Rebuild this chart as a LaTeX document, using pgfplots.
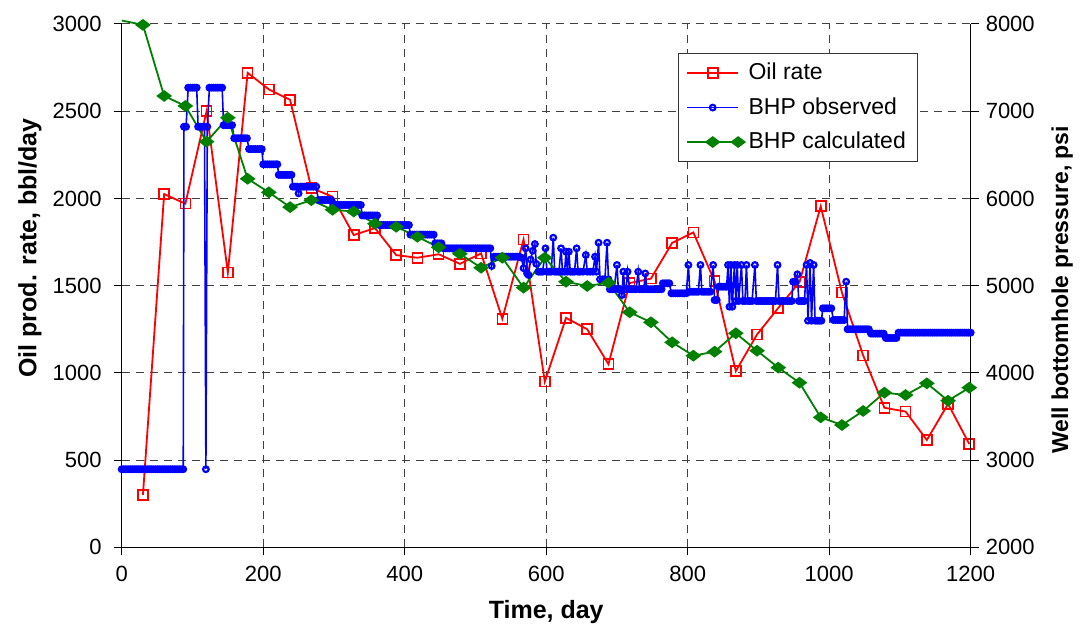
\documentclass[border=0pt]{standalone}
\usepackage{pgfplots}
\pgfplotsset{compat=1.18}
\usepackage{fontspec}
\setmainfont{Liberation Sans}
\definecolor{xlgreen}{RGB}{0,128,0}

\pgfplotstableread{
x y
30 300
60 2025
90 1970
120 2500
150 1575
178 2720
208 2625
238 2565
268 2060
298 2010
328 1790
358 1830
388 1675
418 1660
448 1680
478 1625
508 1685
538 1310
568 1765
598 950
628 1315
658 1250
688 1050
718 1515
748 1540
778 1745
808 1805
838 1525
868 1010
898 1220
928 1372
958 1520
988 1955
1018 1460
1048 1100
1078 800
1108 778
1138 615
1168 822
1198 592
}\oilrate

\pgfplotstableread{
x y
0 8040
30 7990
60 7175
90 7060
120 6650
150 6925
178 6225
208 6070
238 5900
268 5980
298 5870
328 5850
358 5710
388 5675
418 5560
448 5440
478 5365
508 5205
538 5320
568 4977
598 5320
628 5045
658 4996
688 5034
718 4695
748 4580
778 4350
808 4197
838 4243
868 4454
898 4254
928 4060
958 3887
988 3490
1018 3402
1048 3563
1078 3773
1108 3746
1138 3880
1168 3681
1198 3830
}\bhpcalc

\pgfplotstableread{
x y
0 2895
3 2895
6 2895
9 2895
12 2895
15 2895
18 2895
21 2895
24 2895
27 2895
30 2895
33 2895
36 2895
39 2895
42 2895
45 2895
48 2895
51 2895
54 2895
57 2895
60 2895
63 2895
66 2895
69 2895
72 2895
75 2895
78 2895
81 2895
84 2895
87 2895
88 6822
91 6822
94 7270
97 7270
100 7270
103 7270
106 7270
108 6822
111 6822
114 6822
117 6822
119 2895
121 6822
124 7270
127 7270
130 7270
133 7270
136 7270
139 7270
142 7270
144 6840
147 6840
150 6840
153 6840
156 6840
159 6690
162 6690
165 6690
168 6690
171 6690
174 6690
177 6690
180 6566
183 6566
186 6566
189 6566
192 6566
195 6566
198 6566
200 6391
203 6391
206 6391
209 6391
212 6391
215 6391
218 6391
220 6391
222 6270
225 6270
228 6270
231 6270
234 6270
237 6270
240 6270
242 6135
245 6135
248 6135
250 6058
253 6135
256 6135
259 6135
262 6135
265 6135
268 6135
271 6135
275 6135
278 5982
281 5982
284 5982
287 5982
290 5982
293 5982
296 5982
299 5925
302 5925
305 5925
308 5925
311 5925
314 5925
317 5925
320 5925
323 5925
326 5925
329 5925
332 5925
335 5925
338 5925
340 5805
343 5805
346 5805
349 5805
352 5805
355 5805
358 5805
361 5805
364 5695
367 5695
370 5695
373 5695
376 5695
379 5695
382 5695
385 5695
388 5695
391 5695
394 5695
397 5695
400 5695
403 5695
406 5695
408 5585
411 5585
414 5585
417 5585
420 5585
423 5585
426 5585
429 5585
432 5585
435 5585
438 5585
441 5585
443 5485
446 5485
449 5485
452 5485
455 5428
458 5428
461 5428
464 5428
467 5428
470 5428
473 5428
476 5428
479 5428
482 5428
485 5428
488 5428
491 5428
494 5428
497 5428
500 5428
503 5428
506 5428
509 5428
512 5428
515 5428
518 5428
521 5428
523 5225
526 5332
529 5332
532 5332
535 5332
538 5332
541 5332
544 5332
547 5332
550 5332
553 5332
556 5332
559 5332
562 5332
565 5320
568 5200
571 5428
573 5141
575 5122
578 5300
581 5400
584 5477
586 5250
589 5160
592 5160
595 5160
599 5428
601 5160
604 5160
607 5160
610 5550
612 5160
615 5160
618 5160
621 5428
623 5160
626 5160
628 5389
630 5160
632 5389
634 5160
637 5160
640 5160
643 5428
645 5160
648 5160
652 5160
656 5351
658 5160
662 5160
666 5160
669 5332
671 5160
674 5492
676 5073
680 5073
683 5073
686 5492
688 5073
690 4959
693 4959
696 4959
700 5237
702 4959
705 4959
707 4893
709 5160
711 4959
713 4959
715 5160
718 4959
721 4959
724 4959
727 4959
730 5160
732 4959
735 4959
738 4959
740 5140
742 4959
745 4959
748 4959
751 4959
754 4959
757 4959
760 4959
763 4959
765 5027
768 5027
771 5027
774 5027
777 4912
780 4912
783 4912
786 4912
789 4912
792 4912
795 4912
798 4912
801 5237
803 4930
806 4930
809 4930
812 4930
815 4930
818 5237
820 4930
823 4930
826 4930
829 4930
832 4930
836 5237
838 4835
841 4835
844 4988
847 4988
850 4988
853 4988
855 4988
857 5237
859 4758
861 5237
863 4758
866 5237
868 4824
870 5237
872 4824
876 5237
878 4824
881 4824
883 5237
885 4824
888 4824
891 4824
895 5237
897 4824
900 4824
903 4824
906 4824
909 4824
912 4824
915 4824
918 4824
921 4824
924 4824
927 5237
929 4824
932 4824
935 4824
938 4824
941 4824
944 4824
947 4824
949 5045
952 5045
955 5130
957 4824
960 4824
963 4824
965 4824
968 5237
970 4598
973 5260
975 4598
978 5237
980 4598
983 4598
986 4598
989 4598
991 4740
994 4740
997 4740
1000 4740
1003 4740
1006 4606
1009 4606
1012 4606
1015 4606
1018 4606
1021 4606
1024 5045
1026 4500
1029 4500
1032 4500
1035 4500
1038 4500
1041 4500
1044 4500
1047 4500
1050 4500
1053 4500
1056 4500
1059 4450
1062 4450
1065 4450
1068 4450
1071 4450
1074 4450
1077 4450
1080 4400
1083 4400
1086 4400
1089 4400
1092 4400
1095 4400
1098 4461
1101 4461
1104 4461
1107 4461
1110 4461
1113 4461
1116 4461
1119 4461
1122 4461
1125 4461
1128 4461
1131 4461
1134 4461
1137 4461
1140 4461
1143 4461
1146 4461
1149 4461
1152 4461
1155 4461
1158 4461
1161 4461
1164 4461
1167 4461
1170 4461
1173 4461
1176 4461
1179 4461
1182 4461
1185 4461
1188 4461
1191 4461
1194 4461
1197 4461
1200 4461
}\bhpobs

\begin{document}
\begin{tikzpicture}[font=\fontsize{11}{13}\selectfont]
\useasboundingbox (-60.85pt,-41.85pt) rectangle (479.65pt,273.65pt);
\pgfplotsset{
  every axis/.append style={
    scale only axis, width=424.5pt, height=261.65pt,
    at={(0,0)}, anchor=south west,
    xmin=0, xmax=1200,
    /pgf/number format/assume math mode=true,
    /pgf/number format/1000 sep={},
    tick label style={font=\fontsize{11}{13}\selectfont, black},
    tick align=outside, major tick length=4pt,
    tick style={black, line width=0.5pt},
    axis line style={black, line width=0.7pt, -},
  }
}
\begin{axis}[
  axis x line*=bottom, axis y line*=left,
  ymin=0, ymax=3000, ytick={0,500,...,3000},
  xtick={0,200,...,1200},
  yticklabel style={xshift=-2.5pt},
  xticklabel style={yshift=-2pt},
  grid=major,
  major grid style={dash pattern=on 4pt off 3pt, line width=0.5pt, black!75},
  xlabel={Time, day},
  ylabel={Oil prod. rate, bbl/day},
  xlabel style={at={(axis description cs:0.5,-0.124)}, anchor=center,
    font=\fontsize{12.5}{15}\selectfont\bfseries},
  ylabel style={at={(axis description cs:-0.108,0.572)}, anchor=center,
    font=\fontsize{12.5}{15}\selectfont\bfseries},
]
\addplot[red, line width=0.9pt, mark=square, mark size=2.5pt,
  mark options={solid, line width=0.8pt}] table[x=x,y=y] {\oilrate};
\end{axis}
\begin{axis}[
  axis x line=none, axis y line*=right,
  clip=false,
  ymin=2000, ymax=8000, ytick={2000,3000,...,8000},
  ylabel={Well bottomhole pressure, psi},
  ylabel style={at={(axis description cs:1.1076,0.492)}, anchor=center,
    font=\fontsize{11.5}{14}\selectfont\bfseries},
  legend style={at={(axis description cs:0.655,0.945)}, anchor=north west,
    draw=black!80, line width=0.5pt, font=\fontsize{11.5}{13.8}\selectfont,
    row sep=3.4pt, inner xsep=4pt, inner ysep=3pt, cells={anchor=west}},
  legend image code/.code={%
    \draw[mark repeat=2,mark phase=2] plot coordinates {(0pt,0pt) (12.75pt,0pt) (25.5pt,0pt)};},
]
\addlegendimage{red, line width=0.9pt, mark=square, mark size=2.5pt, mark options={solid, line width=0.8pt}}
\addlegendentry{Oil rate}
\addplot[blue, line width=0.8pt, mark=o, mark size=1.4pt,
  mark options={solid, line width=1.1pt}] table[x=x,y=y] {\bhpobs};
\addlegendentry{BHP observed}
\addplot[xlgreen, line width=0.9pt, mark=diamond*, mark size=3.2pt,
  mark indices={2,3,...,41},
  mark options={solid, rotate=90}] table[x=x,y=y] {\bhpcalc};
\addlegendentry{BHP calculated}
\end{axis}
\end{tikzpicture}
\end{document}
